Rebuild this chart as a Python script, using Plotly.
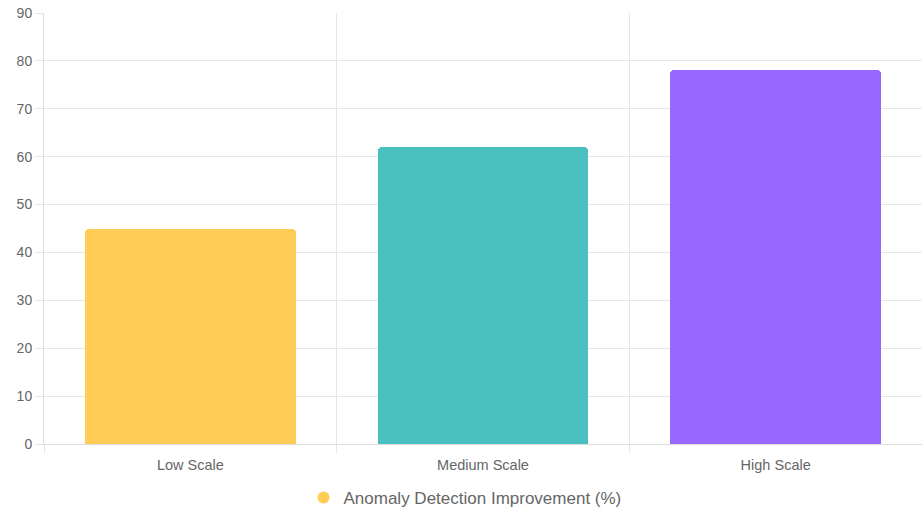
import plotly.graph_objects as go

categories = ["Low Scale", "Medium Scale", "High Scale"]
values = [45, 62, 78]
colors = ["#FFCD56", "#4BC0C0", "#9966FF"]
series_name = "Anomaly Detection Improvement (%)"
y_ticks = [0, 10, 20, 30, 40, 50, 60, 70, 80, 90]

x_pos = list(range(len(categories)))

fig = go.Figure()
fig.add_trace(go.Bar(
    x=x_pos, y=values, width=0.72,
    marker=dict(color=colors, line=dict(width=0), cornerradius=4),
    showlegend=False, name=series_name,
))
fig.add_trace(go.Scatter(
    x=[None], y=[None], mode="markers", name=series_name,
    marker=dict(symbol="circle", size=14, color=colors[0]),
    showlegend=True,
))

grid = "#e6e6e6"
fig.update_layout(
    width=922, height=508,
    margin=dict(l=44, r=0, t=13, b=64, autoexpand=False),
    plot_bgcolor="white", paper_bgcolor="white",
    font=dict(family="Liberation Sans, Arial, sans-serif", color="#666666"),
    legend=dict(orientation="h", x=0.4795, xanchor="center", y=-0.125, yanchor="middle",
                font=dict(size=17, color="#666666"), itemsizing="constant"),
    bargap=0,
)
fig.update_xaxes(
    range=[-0.5, len(categories) - 0.5],
    tickvals=x_pos, ticktext=categories,
    tickfont=dict(size=14.5, color="#666666"),
    ticks="outside", ticklen=8, tickcolor="rgba(0,0,0,0)",
    showgrid=False, zeroline=False,
    showline=True, linecolor="#dddddd", linewidth=1,
    minor=dict(tick0=0.5, dtick=1, showgrid=True, gridcolor=grid, gridwidth=1,
               ticks="outside", ticklen=8, tickcolor=grid),
)
fig.update_yaxes(
    range=[0, 90], tickvals=y_ticks,
    tickfont=dict(size=14, color="#666666"),
    ticks="outside", ticklen=8, tickcolor=grid,
    showgrid=True, gridcolor=grid, gridwidth=1,
    zeroline=False, showline=True, linecolor="#dddddd", linewidth=1,
)

fig.write_html("out.html")
